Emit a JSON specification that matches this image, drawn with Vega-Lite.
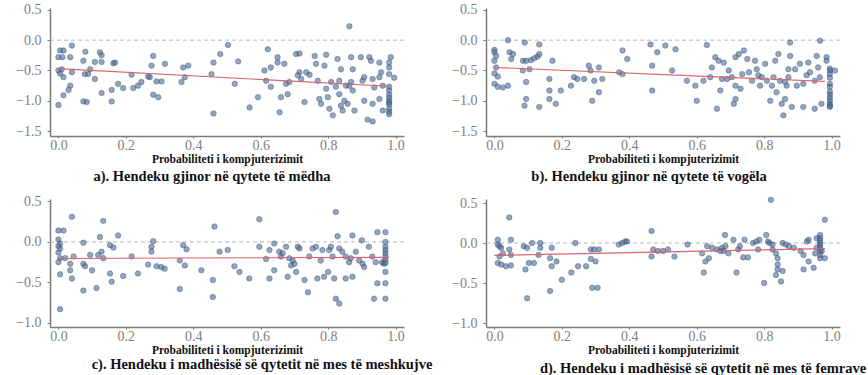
{
  "$schema": "https://vega.github.io/schema/vega-lite/v6.json",
  "autosize": {"type": "pad"},
  "padding": {"left": 15, "top": 2, "right": 0, "bottom": 0},
  "background": "white",
  "bounds": "flush",
  "spacing": {"row": 63, "column": 82},
  "columns": 2,
  "datasets": {
    "a": [
      {"x":0.005,"y":-0.17},{"x":0.015,"y":-0.17},{"x":0.0,"y":-0.28},{"x":0.012,"y":-0.28},{"x":0.01,"y":-0.48},{"x":0.0,"y":-0.5},{"x":0.005,"y":-0.55},{"x":0.015,"y":-0.61},{"x":0.015,"y":-0.91},{"x":0.0,"y":-1.07},
      {"x":0.04,"y":-0.09},{"x":0.035,"y":-0.28},{"x":0.04,"y":-0.53},{"x":0.035,"y":-0.75},{"x":0.03,"y":-0.82},{"x":0.08,"y":-0.19},{"x":0.074,"y":-0.34},{"x":0.088,"y":-0.56},{"x":0.078,"y":-0.56},{"x":0.074,"y":-1.01},
      {"x":0.084,"y":-1.02},{"x":0.094,"y":-0.48},{"x":0.108,"y":-0.36},{"x":0.108,"y":-0.64},{"x":0.123,"y":-0.2},{"x":0.128,"y":-0.25},{"x":0.128,"y":-0.36},{"x":0.128,"y":-0.87},{"x":0.163,"y":-0.38},{"x":0.168,"y":-0.37},
      {"x":0.158,"y":-0.82},{"x":0.158,"y":-1.01},{"x":0.177,"y":-0.72},{"x":0.192,"y":-0.79},{"x":0.217,"y":-0.57},{"x":0.222,"y":-0.79},{"x":0.236,"y":-0.75},{"x":0.246,"y":-0.69},{"x":0.271,"y":-0.61},{"x":0.266,"y":-0.6},
      {"x":0.281,"y":-0.26},{"x":0.276,"y":-0.42},{"x":0.281,"y":-0.9},{"x":0.296,"y":-0.94},{"x":0.291,"y":-0.68},{"x":0.316,"y":-0.39},{"x":0.306,"y":-0.68},{"x":0.37,"y":-0.45},{"x":0.385,"y":-0.42},{"x":0.365,"y":-0.69},
      {"x":0.375,"y":-0.61},{"x":0.46,"y":-0.37},{"x":0.454,"y":-0.56},{"x":0.46,"y":-1.21},{"x":0.48,"y":-0.23},{"x":0.503,"y":-0.08},{"x":0.523,"y":-0.72},{"x":0.533,"y":-0.35},{"x":0.567,"y":-1.11},{"x":0.592,"y":-0.94},
      {"x":0.611,"y":-0.5},{"x":0.621,"y":-0.15},{"x":0.63,"y":-0.45},{"x":0.616,"y":-0.67},{"x":0.63,"y":-0.77},{"x":0.65,"y":-0.28},{"x":0.65,"y":-0.37},{"x":0.656,"y":-1.19},{"x":0.67,"y":-0.39},{"x":0.66,"y":-0.94},
      {"x":0.685,"y":-0.69},{"x":0.68,"y":-0.89},{"x":0.675,"y":-0.72},{"x":0.705,"y":-0.23},{"x":0.715,"y":-0.22},{"x":0.715,"y":-0.53},{"x":0.72,"y":-0.64},{"x":0.71,"y":-0.58},{"x":0.735,"y":-0.53},{"x":0.745,"y":-0.57},
      {"x":0.73,"y":-1.02},{"x":0.76,"y":-0.26},{"x":0.764,"y":-0.39},{"x":0.769,"y":-0.67},{"x":0.774,"y":-0.97},{"x":0.779,"y":-1.05},{"x":0.794,"y":-0.24},{"x":0.789,"y":-0.42},{"x":0.794,"y":-0.8},{"x":0.799,"y":-0.94},
      {"x":0.804,"y":-1.13},{"x":0.814,"y":-1.24},{"x":0.809,"y":-0.69},{"x":0.823,"y":-0.77},{"x":0.828,"y":-0.31},{"x":0.838,"y":-0.48},{"x":0.833,"y":-0.67},{"x":0.833,"y":-0.89},{"x":0.838,"y":-1.08},{"x":0.843,"y":-1.16},
      {"x":0.853,"y":-0.75},{"x":0.863,"y":-0.75},{"x":0.848,"y":-1.0},{"x":0.858,"y":-1.05},{"x":0.863,"y":0.23},{"x":0.868,"y":-0.28},{"x":0.873,"y":-0.48},{"x":0.868,"y":-0.69},{"x":0.873,"y":-0.83},{"x":0.878,"y":-1.16},
      {"x":0.897,"y":-0.28},{"x":0.902,"y":-0.67},{"x":0.907,"y":-1.0},{"x":0.922,"y":-0.28},{"x":0.927,"y":-0.34},{"x":0.907,"y":-0.61},{"x":0.932,"y":-0.64},{"x":0.937,"y":-0.78},{"x":0.932,"y":-1.05},{"x":0.917,"y":-1.31},
      {"x":0.932,"y":-1.34},{"x":0.952,"y":-0.61},{"x":0.952,"y":-0.37},{"x":0.957,"y":-0.53},{"x":0.962,"y":-0.75},{"x":0.952,"y":-0.97},{"x":0.962,"y":-1.16},{"x":0.981,"y":-0.37},{"x":0.981,"y":-0.45},{"x":0.981,"y":-0.56},
      {"x":0.981,"y":-0.77},{"x":0.981,"y":-0.83},{"x":0.981,"y":-0.9},{"x":0.981,"y":-0.95},{"x":0.981,"y":-1.0},{"x":0.981,"y":-1.03},{"x":0.981,"y":-1.06},{"x":0.981,"y":-1.13},{"x":0.981,"y":-1.18},{"x":0.981,"y":-1.22},
      {"x":0.996,"y":-0.62},{"x":0.986,"y":-0.28}
    ],
    "b": [
      {"x":0.0,"y":-0.16},{"x":0.0,"y":-0.2},{"x":0.005,"y":-0.26},{"x":0.0,"y":-0.34},{"x":0.005,"y":-0.45},{"x":0.0,"y":-0.55},{"x":0.01,"y":-0.6},{"x":0.0,"y":-0.72},{"x":0.01,"y":-0.77},{"x":0.025,"y":-0.78},
      {"x":0.04,"y":-0.75},{"x":0.04,"y":0.0},{"x":0.045,"y":-0.2},{"x":0.055,"y":-0.23},{"x":0.05,"y":-0.31},{"x":0.09,"y":-0.04},{"x":0.085,"y":-0.34},{"x":0.094,"y":-0.34},{"x":0.108,"y":-0.33},{"x":0.084,"y":-0.5},
      {"x":0.094,"y":-0.69},{"x":0.094,"y":-0.97},{"x":0.089,"y":-1.08},{"x":0.104,"y":-0.48},{"x":0.118,"y":-0.3},{"x":0.128,"y":-0.27},{"x":0.133,"y":-0.23},{"x":0.133,"y":-0.07},{"x":0.133,"y":-1.1},{"x":0.172,"y":-0.34},
      {"x":0.163,"y":-0.64},{"x":0.163,"y":-0.83},{"x":0.163,"y":-0.97},{"x":0.182,"y":-1.05},{"x":0.197,"y":-0.83},{"x":0.227,"y":-0.75},{"x":0.236,"y":-0.61},{"x":0.246,"y":-0.64},{"x":0.266,"y":-0.64},{"x":0.28,"y":-0.42},
      {"x":0.285,"y":-0.5},{"x":0.296,"y":-0.67},{"x":0.29,"y":-1.0},{"x":0.31,"y":-0.45},{"x":0.31,"y":-0.86},{"x":0.32,"y":-0.64},{"x":0.38,"y":-0.17},{"x":0.394,"y":-0.31},{"x":0.37,"y":-0.53},{"x":0.38,"y":-0.56},
      {"x":0.463,"y":-0.07},{"x":0.468,"y":-0.42},{"x":0.468,"y":-0.83},{"x":0.483,"y":-0.2},{"x":0.507,"y":-0.09},{"x":0.537,"y":-0.15},{"x":0.527,"y":-0.5},{"x":0.571,"y":-0.67},{"x":0.596,"y":-0.75},{"x":0.6,"y":-1.0},
      {"x":0.62,"y":-0.67},{"x":0.63,"y":-0.08},{"x":0.64,"y":-0.61},{"x":0.645,"y":-0.45},{"x":0.655,"y":-0.28},{"x":0.665,"y":-0.34},{"x":0.66,"y":-1.13},{"x":0.67,"y":-0.83},{"x":0.675,"y":-0.64},{"x":0.68,"y":-0.37},
      {"x":0.695,"y":-0.5},{"x":0.69,"y":-0.64},{"x":0.704,"y":-0.61},{"x":0.715,"y":-0.28},{"x":0.725,"y":-0.23},{"x":0.715,"y":-0.75},{"x":0.715,"y":-0.97},{"x":0.71,"y":-1.05},{"x":0.73,"y":-0.8},{"x":0.735,"y":-0.56},
      {"x":0.74,"y":-0.17},{"x":0.75,"y":-0.31},{"x":0.755,"y":-0.53},{"x":0.764,"y":-0.67},{"x":0.773,"y":-0.34},{"x":0.778,"y":-0.48},{"x":0.783,"y":-0.58},{"x":0.788,"y":-0.75},{"x":0.793,"y":-0.61},{"x":0.803,"y":-0.39},
      {"x":0.808,"y":-0.67},{"x":0.818,"y":-1.0},{"x":0.823,"y":-0.75},{"x":0.828,"y":-0.61},{"x":0.833,"y":-0.34},{"x":0.837,"y":-0.86},{"x":0.842,"y":-0.23},{"x":0.847,"y":-0.67},{"x":0.852,"y":-1.05},{"x":0.857,"y":-1.24},
      {"x":0.862,"y":-0.97},{"x":0.862,"y":-0.69},{"x":0.867,"y":-0.75},{"x":0.872,"y":-0.48},{"x":0.872,"y":-0.61},{"x":0.877,"y":-0.04},{"x":0.877,"y":-0.26},{"x":0.882,"y":-1.1},{"x":0.892,"y":-0.48},{"x":0.897,"y":-0.75},
      {"x":0.906,"y":-0.39},{"x":0.916,"y":-0.72},{"x":0.916,"y":-1.1},{"x":0.926,"y":-0.58},{"x":0.931,"y":-0.37},{"x":0.936,"y":-0.53},{"x":0.95,"y":-1.13},{"x":0.95,"y":-0.67},{"x":0.956,"y":-0.26},{"x":0.96,"y":-0.45},
      {"x":0.965,"y":-0.61},{"x":0.97,"y":-1.05},{"x":0.966,"y":-0.01},{"x":0.985,"y":-0.28},{"x":0.985,"y":-0.34},{"x":0.995,"y":-0.47},{"x":0.995,"y":-0.5},{"x":0.995,"y":-0.56},{"x":0.995,"y":-0.62},{"x":0.995,"y":-0.72},
      {"x":0.995,"y":-0.77},{"x":0.995,"y":-0.85},{"x":0.995,"y":-0.9},{"x":0.995,"y":-0.95},{"x":0.995,"y":-1.0},{"x":0.995,"y":-1.05},{"x":0.995,"y":-1.08},{"x":0.995,"y":-1.1},{"x":1.01,"y":-0.5}
    ],
    "c": [
      {"x":0.0,"y":0.03},{"x":0.005,"y":-0.02},{"x":0.0,"y":-0.05},{"x":0.005,"y":-0.08},{"x":0.0,"y":-0.13},{"x":0.005,"y":-0.2},{"x":0.0,"y":-0.25},{"x":0.0,"y":0.14},{"x":0.015,"y":0.14},{"x":0.005,"y":-0.4},
      {"x":0.005,"y":-0.83},{"x":0.02,"y":-0.2},{"x":0.035,"y":-0.27},{"x":0.04,"y":0.31},{"x":0.035,"y":-0.35},{"x":0.04,"y":-0.45},{"x":0.045,"y":-0.18},{"x":0.074,"y":-0.01},{"x":0.074,"y":-0.27},{"x":0.079,"y":-0.3},
      {"x":0.074,"y":-0.6},{"x":0.1,"y":-0.35},{"x":0.094,"y":-0.16},{"x":0.113,"y":-0.57},{"x":0.123,"y":0.06},{"x":0.128,"y":-0.12},{"x":0.118,"y":-0.16},{"x":0.133,"y":0.26},{"x":0.133,"y":-0.2},{"x":0.153,"y":-0.04},
      {"x":0.163,"y":-0.07},{"x":0.153,"y":-0.39},{"x":0.158,"y":-0.49},{"x":0.177,"y":0.08},{"x":0.192,"y":-0.42},{"x":0.217,"y":-0.18},{"x":0.236,"y":-0.39},{"x":0.266,"y":-0.28},{"x":0.276,"y":-0.06},{"x":0.281,"y":0.01},
      {"x":0.276,"y":-0.12},{"x":0.291,"y":-0.3},{"x":0.305,"y":-0.31},{"x":0.315,"y":-0.33},{"x":0.37,"y":-0.04},{"x":0.38,"y":-0.09},{"x":0.36,"y":-0.23},{"x":0.375,"y":-0.29},{"x":0.36,"y":-0.58},{"x":0.424,"y":-0.35},
      {"x":0.458,"y":-0.47},{"x":0.458,"y":-0.68},{"x":0.463,"y":0.19},{"x":0.478,"y":-0.12},{"x":0.502,"y":-0.1},{"x":0.522,"y":-0.3},{"x":0.537,"y":-0.37},{"x":0.566,"y":-0.45},{"x":0.596,"y":0.28},{"x":0.596,"y":-0.06},
      {"x":0.616,"y":-0.21},{"x":0.626,"y":-0.45},{"x":0.626,"y":-0.1},{"x":0.64,"y":-0.02},{"x":0.64,"y":-0.35},{"x":0.655,"y":-0.12},{"x":0.66,"y":-0.18},{"x":0.665,"y":-0.14},{"x":0.675,"y":-0.06},{"x":0.685,"y":-0.2},
      {"x":0.69,"y":-0.29},{"x":0.68,"y":-0.43},{"x":0.695,"y":-0.23},{"x":0.705,"y":-0.37},{"x":0.7,"y":-0.27},{"x":0.71,"y":-0.06},{"x":0.715,"y":-0.08},{"x":0.73,"y":-0.47},{"x":0.74,"y":-0.62},{"x":0.744,"y":-0.18},
      {"x":0.754,"y":-0.08},{"x":0.764,"y":-0.06},{"x":0.768,"y":-0.45},{"x":0.778,"y":-0.23},{"x":0.783,"y":-0.1},{"x":0.788,"y":-0.43},{"x":0.8,"y":-0.37},{"x":0.803,"y":-0.1},{"x":0.808,"y":-0.06},{"x":0.813,"y":-0.18},
      {"x":0.818,"y":-0.45},{"x":0.823,"y":0.37},{"x":0.823,"y":-0.7},{"x":0.833,"y":-0.76},{"x":0.828,"y":0.07},{"x":0.833,"y":-0.08},{"x":0.842,"y":-0.12},{"x":0.852,"y":-0.18},{"x":0.862,"y":-0.25},{"x":0.867,"y":-0.2},
      {"x":0.852,"y":-0.45},{"x":0.872,"y":-0.43},{"x":0.872,"y":0.08},{"x":0.882,"y":-0.12},{"x":0.892,"y":-0.23},{"x":0.902,"y":-0.27},{"x":0.9,"y":0.02},{"x":0.907,"y":-0.31},{"x":0.921,"y":-0.06},{"x":0.931,"y":-0.18},
      {"x":0.941,"y":-0.25},{"x":0.946,"y":0.12},{"x":0.936,"y":-0.7},{"x":0.946,"y":-0.51},{"x":0.96,"y":-0.25},{"x":0.965,"y":-0.27},{"x":0.97,"y":0.12},{"x":0.97,"y":0.0},{"x":0.97,"y":-0.06},{"x":0.97,"y":-0.1},
      {"x":0.97,"y":-0.14},{"x":0.97,"y":-0.18},{"x":0.97,"y":-0.22},{"x":0.97,"y":-0.26},{"x":0.97,"y":-0.37},{"x":0.97,"y":-0.51},{"x":0.97,"y":-0.7}
    ],
    "d": [
      {"x":0.01,"y":0.04},{"x":0.01,"y":-0.02},{"x":0.015,"y":-0.04},{"x":0.02,"y":-0.06},{"x":0.015,"y":-0.17},{"x":0.01,"y":-0.25},{"x":0.02,"y":-0.27},{"x":0.034,"y":-0.29},{"x":0.044,"y":-0.08},{"x":0.025,"y":-0.13},
      {"x":0.044,"y":0.32},{"x":0.049,"y":0.04},{"x":0.049,"y":-0.15},{"x":0.049,"y":-0.28},{"x":0.087,"y":-0.04},{"x":0.097,"y":-0.06},{"x":0.092,"y":-0.33},{"x":0.097,"y":-0.69},{"x":0.102,"y":-0.25},{"x":0.112,"y":0.0},
      {"x":0.117,"y":-0.25},{"x":0.136,"y":0.0},{"x":0.136,"y":-0.06},{"x":0.131,"y":-0.15},{"x":0.17,"y":-0.06},{"x":0.165,"y":-0.19},{"x":0.17,"y":-0.29},{"x":0.165,"y":-0.6},{"x":0.184,"y":-0.23},{"x":0.2,"y":-0.46},
      {"x":0.228,"y":-0.37},{"x":0.24,"y":0.0},{"x":0.248,"y":-0.29},{"x":0.272,"y":-0.29},{"x":0.286,"y":-0.08},{"x":0.296,"y":-0.08},{"x":0.31,"y":-0.08},{"x":0.286,"y":-0.2},{"x":0.3,"y":-0.23},{"x":0.29,"y":-0.56},
      {"x":0.306,"y":-0.56},{"x":0.369,"y":-0.02},{"x":0.379,"y":0.0},{"x":0.388,"y":0.02},{"x":0.393,"y":0.02},{"x":0.466,"y":0.15},{"x":0.466,"y":-0.17},{"x":0.471,"y":-0.08},{"x":0.485,"y":-0.1},{"x":0.5,"y":-0.1},
      {"x":0.515,"y":-0.08},{"x":0.534,"y":-0.17},{"x":0.573,"y":-0.02},{"x":0.616,"y":-0.13},{"x":0.621,"y":-0.37},{"x":0.626,"y":-0.23},{"x":0.636,"y":-0.19},{"x":0.631,"y":-0.04},{"x":0.646,"y":-0.06},{"x":0.66,"y":-0.08},
      {"x":0.67,"y":-0.1},{"x":0.675,"y":-0.06},{"x":0.685,"y":-0.04},{"x":0.68,"y":-0.1},{"x":0.684,"y":0.1},{"x":0.694,"y":-0.13},{"x":0.709,"y":0.04},{"x":0.718,"y":-0.37},{"x":0.723,"y":-0.08},{"x":0.728,"y":-0.04},
      {"x":0.738,"y":-0.18},{"x":0.742,"y":0.04},{"x":0.752,"y":-0.18},{"x":0.767,"y":0.0},{"x":0.777,"y":0.02},{"x":0.786,"y":0.04},{"x":0.782,"y":-0.08},{"x":0.8,"y":-0.5},{"x":0.806,"y":0.1},{"x":0.811,"y":0.02},
      {"x":0.816,"y":0.0},{"x":0.825,"y":-0.02},{"x":0.82,"y":0.54},{"x":0.825,"y":-0.08},{"x":0.835,"y":-0.13},{"x":0.84,"y":-0.19},{"x":0.84,"y":-0.27},{"x":0.84,"y":-0.33},{"x":0.835,"y":-0.4},{"x":0.85,"y":-0.48},
      {"x":0.855,"y":-0.35},{"x":0.855,"y":0.0},{"x":0.864,"y":-0.02},{"x":0.874,"y":-0.04},{"x":0.888,"y":-0.06},{"x":0.908,"y":-0.1},{"x":0.917,"y":-0.15},{"x":0.917,"y":-0.33},{"x":0.927,"y":0.02},{"x":0.932,"y":0.04},
      {"x":0.932,"y":-0.23},{"x":0.947,"y":-0.31},{"x":0.951,"y":-0.13},{"x":0.956,"y":-0.06},{"x":0.956,"y":0.06},{"x":0.966,"y":0.1},{"x":0.966,"y":0.06},{"x":0.966,"y":0.03},{"x":0.966,"y":0.0},{"x":0.966,"y":-0.03},
      {"x":0.966,"y":-0.06},{"x":0.966,"y":-0.1},{"x":0.966,"y":-0.15},{"x":0.966,"y":-0.19},{"x":0.98,"y":-0.19},{"x":0.98,"y":0.29},{"x":0.971,"y":-0.1}
    ],
    "fits": [
      {"panel":"a","x":0.0,"y":-0.47},{"panel":"a","x":0.98,"y":-0.76},
      {"panel":"b","x":0.0,"y":-0.45},{"panel":"b","x":0.98,"y":-0.68},
      {"panel":"c","x":0.0,"y":-0.205},{"panel":"c","x":0.98,"y":-0.19},
      {"panel":"d","x":0.0,"y":-0.155},{"panel":"d","x":0.98,"y":-0.07}
    ],
    "zero": [{"z":0}]
  },
  "concat": [
    {
      "width": 354, "height": 128,
      "title": {"text": "a). Hendeku gjinor në qytete të mëdha", "dx": -15},
      "layer": [
        {"data": {"name": "zero"}, "mark": {"type": "rule", "color": "#b5b5b5", "strokeDash": [4, 3], "strokeWidth": 1}, "encoding": {"y": {"field": "z", "type": "quantitative", "scale": {"domain": [-1.58, 0.53], "nice": false, "zero": false}, "axis": {"values": [-1.5, -1, -0.5, 0, 0.5], "format": ".1f", "title": null, "labelOverlap": false, "labelFlush": false}}}},
        {"data": {"name": "a"}, "mark": {"type": "circle", "size": 30, "fill": "#4d6a94", "fillOpacity": 0.6, "stroke": "#2e4870", "strokeOpacity": 0.5, "strokeWidth": 0.8},
          "encoding": {
            "x": {"field": "x", "type": "quantitative", "scale": {"domain": [-0.025, 1.025], "nice": false, "zero": false}, "axis": {"values": [0, 0.2, 0.4, 0.6, 0.8, 1], "format": ".1f", "title": "Probabiliteti i kompjuterizimit"}},
            "y": {"field": "y", "type": "quantitative", "axis": {"values": [-1.5, -1, -0.5, 0, 0.5], "format": ".1f", "title": null, "labelOverlap": false, "labelFlush": false}}
          }},
        {"data": {"name": "fits"}, "transform": [{"filter": "datum.panel === 'a'"}], "mark": {"type": "line", "color": "#d9646a", "strokeWidth": 1.1}, "encoding": {"x": {"field": "x", "type": "quantitative", "axis": {"values": [0, 0.2, 0.4, 0.6, 0.8, 1], "format": ".1f", "title": "Probabiliteti i kompjuterizimit"}}, "y": {"field": "y", "type": "quantitative", "axis": {"values": [-1.5, -1, -0.5, 0, 0.5], "format": ".1f", "title": null, "labelOverlap": false, "labelFlush": false}}}}
      ]
    },
    {
      "width": 354, "height": 128,
      "title": {"text": "b). Hendeku gjinor në qytete të vogëla", "dx": -14},
      "layer": [
        {"data": {"name": "zero"}, "mark": {"type": "rule", "color": "#b5b5b5", "strokeDash": [4, 3], "strokeWidth": 1}, "encoding": {"y": {"field": "z", "type": "quantitative", "scale": {"domain": [-1.58, 0.53], "nice": false, "zero": false}, "axis": {"values": [-1.5, -1, -0.5, 0, 0.5], "format": ".1f", "title": null, "labelOverlap": false, "labelFlush": false}}}},
        {"data": {"name": "b"}, "mark": {"type": "circle", "size": 30, "fill": "#4d6a94", "fillOpacity": 0.6, "stroke": "#2e4870", "strokeOpacity": 0.5, "strokeWidth": 0.8},
          "encoding": {
            "x": {"field": "x", "type": "quantitative", "scale": {"domain": [-0.025, 1.025], "nice": false, "zero": false}, "axis": {"values": [0, 0.2, 0.4, 0.6, 0.8, 1], "format": ".1f", "title": "Probabiliteti i kompjuterizimit"}},
            "y": {"field": "y", "type": "quantitative", "axis": {"values": [-1.5, -1, -0.5, 0, 0.5], "format": ".1f", "title": null, "labelOverlap": false, "labelFlush": false}}
          }},
        {"data": {"name": "fits"}, "transform": [{"filter": "datum.panel === 'b'"}], "mark": {"type": "line", "color": "#d9646a", "strokeWidth": 1.1}, "encoding": {"x": {"field": "x", "type": "quantitative", "axis": {"values": [0, 0.2, 0.4, 0.6, 0.8, 1], "format": ".1f", "title": "Probabiliteti i kompjuterizimit"}}, "y": {"field": "y", "type": "quantitative", "axis": {"values": [-1.5, -1, -0.5, 0, 0.5], "format": ".1f", "title": null, "labelOverlap": false, "labelFlush": false}}}}
      ]
    },
    {
      "width": 354, "height": 128,
      "title": {"text": "c). Hendeku i madhësisë së qytetit në mes të meshkujve", "dx": 35, "offset": 2},
      "layer": [
        {"data": {"name": "zero"}, "mark": {"type": "rule", "color": "#b5b5b5", "strokeDash": [4, 3], "strokeWidth": 1}, "encoding": {"y": {"field": "z", "type": "quantitative", "scale": {"domain": [-1.05, 0.53], "nice": false, "zero": false}, "axis": {"values": [-1, -0.5, 0, 0.5], "format": ".1f", "title": null, "labelOverlap": false, "labelFlush": false}}}},
        {"data": {"name": "c"}, "mark": {"type": "circle", "size": 30, "fill": "#4d6a94", "fillOpacity": 0.6, "stroke": "#2e4870", "strokeOpacity": 0.5, "strokeWidth": 0.8},
          "encoding": {
            "x": {"field": "x", "type": "quantitative", "scale": {"domain": [-0.025, 1.025], "nice": false, "zero": false}, "axis": {"values": [0, 0.2, 0.4, 0.6, 0.8, 1], "format": ".1f", "title": "Probabiliteti i kompjuterizimit"}},
            "y": {"field": "y", "type": "quantitative", "axis": {"values": [-1, -0.5, 0, 0.5], "format": ".1f", "title": null, "labelOverlap": false, "labelFlush": false}}
          }},
        {"data": {"name": "fits"}, "transform": [{"filter": "datum.panel === 'c'"}], "mark": {"type": "line", "color": "#d9646a", "strokeWidth": 1.1}, "encoding": {"x": {"field": "x", "type": "quantitative", "axis": {"values": [0, 0.2, 0.4, 0.6, 0.8, 1], "format": ".1f", "title": "Probabiliteti i kompjuterizimit"}}, "y": {"field": "y", "type": "quantitative", "axis": {"values": [-1, -0.5, 0, 0.5], "format": ".1f", "title": null, "labelOverlap": false, "labelFlush": false}}}}
      ]
    },
    {
      "width": 354, "height": 128,
      "title": {"text": "d). Hendeku i madhësisë së qytetit në mes të femrave", "dx": 40, "offset": 6},
      "layer": [
        {"data": {"name": "zero"}, "mark": {"type": "rule", "color": "#b5b5b5", "strokeDash": [4, 3], "strokeWidth": 1}, "encoding": {"y": {"field": "z", "type": "quantitative", "scale": {"domain": [-1.05, 0.55], "nice": false, "zero": false}, "axis": {"values": [-1, -0.5, 0, 0.5], "format": ".1f", "title": null, "labelOverlap": false, "labelFlush": false}}}},
        {"data": {"name": "d"}, "mark": {"type": "circle", "size": 30, "fill": "#4d6a94", "fillOpacity": 0.6, "stroke": "#2e4870", "strokeOpacity": 0.5, "strokeWidth": 0.8},
          "encoding": {
            "x": {"field": "x", "type": "quantitative", "scale": {"domain": [-0.025, 1.025], "nice": false, "zero": false}, "axis": {"values": [0, 0.2, 0.4, 0.6, 0.8, 1], "format": ".1f", "title": "Probabiliteti i kompjuterizimit"}},
            "y": {"field": "y", "type": "quantitative", "axis": {"values": [-1, -0.5, 0, 0.5], "format": ".1f", "title": null, "labelOverlap": false, "labelFlush": false}}
          }},
        {"data": {"name": "fits"}, "transform": [{"filter": "datum.panel === 'd'"}], "mark": {"type": "line", "color": "#d9646a", "strokeWidth": 1.1}, "encoding": {"x": {"field": "x", "type": "quantitative", "axis": {"values": [0, 0.2, 0.4, 0.6, 0.8, 1], "format": ".1f", "title": "Probabiliteti i kompjuterizimit"}}, "y": {"field": "y", "type": "quantitative", "axis": {"values": [-1, -0.5, 0, 0.5], "format": ".1f", "title": null, "labelOverlap": false, "labelFlush": false}}}}
      ]
    }
  ],
  "config": {
    "view": {"stroke": null},
    "axis": {
      "grid": false,
      "domainColor": "#7a7a7a", "domainWidth": 1.5,
      "tickColor": "#7a7a7a", "tickSize": 2, "tickWidth": 1,
      "labelFont": "Liberation Serif", "labelFontSize": 14, "labelColor": "#808080", "labelPadding": 0, "labelOverlap": false,
      "titleFont": "Liberation Serif", "titleFontSize": 11.5, "titleFontWeight": "bold", "titleColor": "#111111", "titlePadding": 1
    },
    "axisY": {"labelPadding": 6, "tickSize": 3},
    "title": {"font": "Liberation Serif", "fontSize": 14.5, "fontWeight": "bold", "color": "#111111", "orient": "bottom", "offset": 5}
  }
}
